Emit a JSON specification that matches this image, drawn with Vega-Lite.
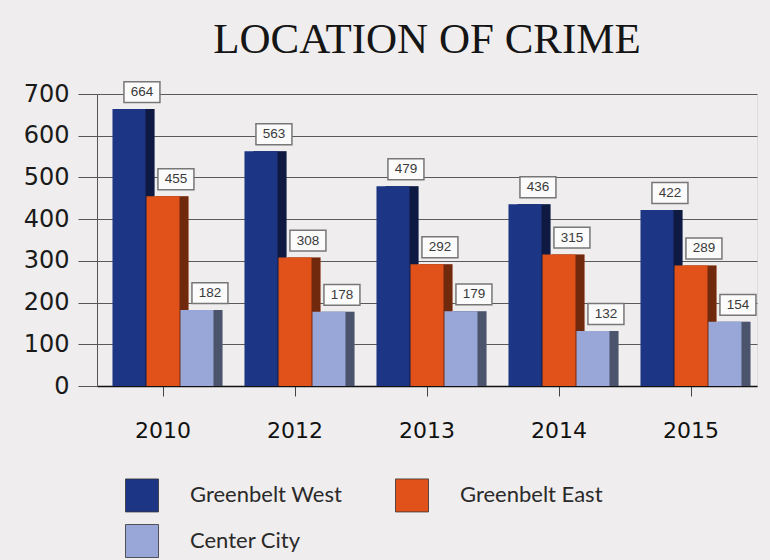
{
  "$schema": "https://vega.github.io/schema/vega-lite/v6.json",
  "width": 660,
  "height": 292,
  "autosize": {"type": "none"},
  "padding": {"left": 97, "top": 94, "right": 13, "bottom": 174},
  "background": "#efeded",
  "title": {
    "text": "LOCATION OF CRIME",
    "font": "Liberation Serif",
    "fontSize": 43,
    "fontWeight": "normal",
    "color": "#151515",
    "anchor": "middle",
    "offset": 17
  },
  "data": {
    "values": [
      {"year": "2010", "series": "Greenbelt West", "value": 664},
      {"year": "2010", "series": "Greenbelt East", "value": 455},
      {"year": "2010", "series": "Center City", "value": 182},
      {"year": "2012", "series": "Greenbelt West", "value": 563},
      {"year": "2012", "series": "Greenbelt East", "value": 308},
      {"year": "2012", "series": "Center City", "value": 178},
      {"year": "2013", "series": "Greenbelt West", "value": 479},
      {"year": "2013", "series": "Greenbelt East", "value": 292},
      {"year": "2013", "series": "Center City", "value": 179},
      {"year": "2014", "series": "Greenbelt West", "value": 436},
      {"year": "2014", "series": "Greenbelt East", "value": 315},
      {"year": "2014", "series": "Center City", "value": 132},
      {"year": "2015", "series": "Greenbelt West", "value": 422},
      {"year": "2015", "series": "Greenbelt East", "value": 289},
      {"year": "2015", "series": "Center City", "value": 154}
    ]
  },
  "encoding": {
    "x": {
      "field": "year",
      "type": "ordinal",
      "scale": {"paddingInner": 0.227, "paddingOuter": 0.1135},
      "axis": {
        "title": null,
        "labelAngle": 0,
        "labelFont": "DejaVu Sans",
        "labelFontSize": 22,
        "labelColor": "#111",
        "labelPadding": 24,
        "tickSize": 10,
        "tickColor": "#444",
        "bandPosition": 0.5,
        "domainColor": "#111",
        "domainWidth": 1.5
      }
    },
    "y": {
      "field": "value",
      "type": "quantitative",
      "scale": {"domain": [0, 700], "nice": false},
      "axis": {
        "title": null,
        "values": [0, 100, 200, 300, 400, 500, 600, 700],
        "labelFont": "DejaVu Sans",
        "labelFontSize": 24,
        "labelColor": "#1a1a1a",
        "labelPadding": 9,
        "tickSize": 19,
        "tickColor": "#555",
        "gridColor": "#5a5a5a",
        "gridWidth": 1,
        "domainColor": "#555"
      }
    },
    "color": {
      "field": "series",
      "type": "nominal",
      "sort": ["Greenbelt West", "Greenbelt East", "Center City"],
      "scale": {
        "domain": ["Greenbelt West", "Greenbelt East", "Center City"],
        "range": ["#1d3585", "#e0521a", "#98a7d8"]
      },
      "legend": {
        "title": null,
        "orient": "none",
        "legendX": 28,
        "legendY": 384,
        "columns": 2,
        "direction": "horizontal",
        "symbolType": "square",
        "symbolSize": 1089,
        "symbolStrokeColor": "#333",
        "symbolStrokeWidth": 0.8,
        "symbolOpacity": 1,
        "labelFont": "Lato",
        "labelFontSize": 22,
        "labelColor": "#2a2a2a",
        "labelOffset": 31,
        "columnPadding": 50,
        "rowPadding": 8,
        "labelLimit": 300
      }
    }
  },
  "resolve": {"scale": {"xOffset": "independent"}},
  "layer": [
    {
      "mark": {"type": "bar", "width": 33},
      "encoding": {
        "xOffset": {
          "field": "series",
          "type": "nominal",
          "sort": ["Greenbelt West", "Greenbelt East", "Center City"],
          "scale": {"paddingInner": 0, "paddingOuter": 0, "range": [9, 111]}
        }
      }
    },
    {
      "mark": {"type": "bar", "width": 33, "color": "#000", "opacity": 0.5},
      "encoding": {
        "color": {"value": "#000"},
        "xOffset": {
          "field": "series",
          "type": "nominal",
          "sort": ["Greenbelt West", "Greenbelt East", "Center City"],
          "scale": {"paddingInner": 0, "paddingOuter": 0, "range": [9, 111]}
        }
      }
    },
    {
      "mark": {"type": "bar", "width": 33},
      "encoding": {
        "xOffset": {
          "field": "series",
          "type": "nominal",
          "sort": ["Greenbelt West", "Greenbelt East", "Center City"],
          "scale": {"paddingInner": 0, "paddingOuter": 0, "range": [0, 102]}
        }
      }
    },
    {
      "mark": {
        "type": "point",
        "shape": "M-0.28,-1.52L1.72,-1.52L1.72,-0.36L-0.28,-0.36Z",
        "size": 1296,
        "filled": true,
        "fill": "#fbfbfb",
        "stroke": "#777",
        "strokeWidth": 1.5,
        "opacity": 1
      },
      "encoding": {
        "color": {"value": "#fbfbfb"},
        "xOffset": {
          "field": "series",
          "type": "nominal",
          "sort": ["Greenbelt West", "Greenbelt East", "Center City"],
          "scale": {"type": "point", "padding": 0.5, "range": [0, 102]}
        }
      }
    },
    {
      "mark": {
        "type": "text",
        "font": "Liberation Sans",
        "fontSize": 13.5,
        "baseline": "middle",
        "align": "center",
        "dx": 13,
        "dy": -17
      },
      "encoding": {
        "color": {"value": "#3a3a3a"},
        "text": {"field": "value", "type": "quantitative"},
        "xOffset": {
          "field": "series",
          "type": "nominal",
          "sort": ["Greenbelt West", "Greenbelt East", "Center City"],
          "scale": {"type": "point", "padding": 0.5, "range": [0, 102]}
        }
      }
    }
  ]
}
